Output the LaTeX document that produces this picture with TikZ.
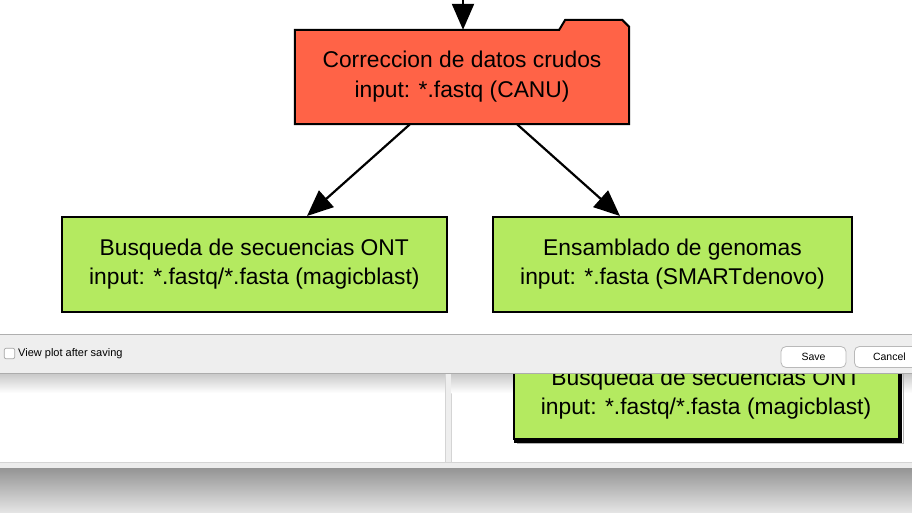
\documentclass[tikz,border=0pt]{standalone}
\usepackage{fontspec}
\setmainfont{Liberation Sans}
\usetikzlibrary{arrows.meta,backgrounds,calc}
\definecolor{tomatored}{RGB}{255,99,71}
\definecolor{limegreen2}{RGB}{180,234,96}
\definecolor{barbg}{RGB}{238,238,238}
\definecolor{barline}{RGB}{175,175,175}
\definecolor{gapgray}{RGB}{238,238,238}
\definecolor{paneledge}{RGB}{212,212,212}
\definecolor{shadetop}{RGB}{148,148,148}
\definecolor{shadebot}{RGB}{228,228,228}
\tikzset{
  procbox/.style={draw=black, line width=2pt, fill=limegreen2, align=center, inner sep=0pt,
    font=\fontsize{22.8}{29}\selectfont},
  corrbox/.style={align=center, inner sep=0pt, font=\fontsize{22.8}{30}\selectfont,
    minimum width=334pt, minimum height=94pt},
  conn/.style={line width=2.2pt, -{Triangle[length=26pt,width=22pt]}},
  btn/.style={draw=gray!55, fill=white, rounded corners=5pt, line width=0.8pt,
    font=\fontsize{10.5}{12}\selectfont, inner sep=0pt, minimum height=21pt},
}
\begin{document}
\begin{tikzpicture}[x=1pt,y=-1pt]
\useasboundingbox (0,0) rectangle (912,512);
% main diagram
\node[corrbox] (corr) at (462,77) {Correccion de datos crudos\\input: *.fastq (CANU)};
\begin{scope}[on background layer]
  \fill[white] (0,0) rectangle (912,512);
  \filldraw[fill=tomatored, draw=black, line width=2pt, line join=miter]
    (corr.north west) -- ([xshift=-70pt]corr.north east) -- ++(6,-10) -- ++(57,0)
    -- ++(7,7) -- (corr.south east) -- (corr.south west) -- cycle;
\end{scope}
\coordinate (src) at (463,-20);
\draw[conn] (src) -- ([xshift=1pt]corr.north);

\node[procbox, minimum width=385pt, minimum height=95pt] (ont) at (254.3,264.5)
  {Busqueda de secuencias ONT\\input: *.fastq/*.fasta (magicblast)};
\node[procbox, minimum width=359pt, minimum height=95pt] (ens) at (672.5,264.5)
  {Ensamblado de genomas\\input: *.fasta (SMARTdenovo)};
\draw[conn] ([xshift=-52pt]corr.south) -- ([xshift=52.7pt]ont.north);
\draw[conn] ([xshift=55pt]corr.south) -- ([xshift=-52.5pt]ens.north);

% lower panels
\fill[white] (0,373) rectangle (912,462);
\fill[gapgray] (445,373) rectangle (451,462);
\draw[paneledge, line width=1pt] (445,373) -- (445,462);
\draw[paneledge, line width=1pt] (451,373) -- (451,462);
\shade[top color=black!22, bottom color=white] (0,373) rectangle (444.5,393);
\shade[top color=black!22, bottom color=white] (451.5,373) rectangle (912,393);
\node[procbox, minimum width=385pt, minimum height=90pt] (ont2) at (706,394)
  {Busqueda de secuencias ONT\\input: *.fastq/*.fasta (magicblast)};
\draw[line width=2.4pt, line cap=rect] ($(ont2.north east)+(1.6,3)$) -- ($(ont2.south east)+(1.6,1.6)$)
  -- ($(ont2.south west)+(3,1.6)$);
\draw[gray!60, line width=1pt] ($(ont2.north east)+(3.6,4)$) -- ($(ont2.south east)+(3.6,3.6)$)
  -- ($(ont2.south west)+(4,3.6)$);

% dialog bar
\fill[barbg] (0,334) rectangle (912,373);
\draw[barline, line width=1pt] (0,334) -- (912,334);
\draw[gray!65, line width=1pt] (0,373) -- (912,373);
\node[draw=gray!70, fill=white, rounded corners=2pt, minimum size=10.5pt, inner sep=0pt,
  line width=0.7pt] (chk) at (9.5,353.5) {};
\node[anchor=west, font=\fontsize{11}{13}\selectfont, inner sep=0pt] (lbl) at (18,353.5)
  {View plot after saving};
\node[btn, minimum width=65pt] (save) at (813.5,357) {Save};
\node[btn, minimum width=70pt, anchor=west] (cancel) at (854,357) {Cancel};

% bottom strip
\fill[gray!15] (0,462) rectangle (912,468);
\draw[paneledge, line width=1pt] (0,462) -- (912,462);
\shade[top color=shadetop, bottom color=shadebot] (0,468) rectangle (912,512);
\end{tikzpicture}
\end{document}
